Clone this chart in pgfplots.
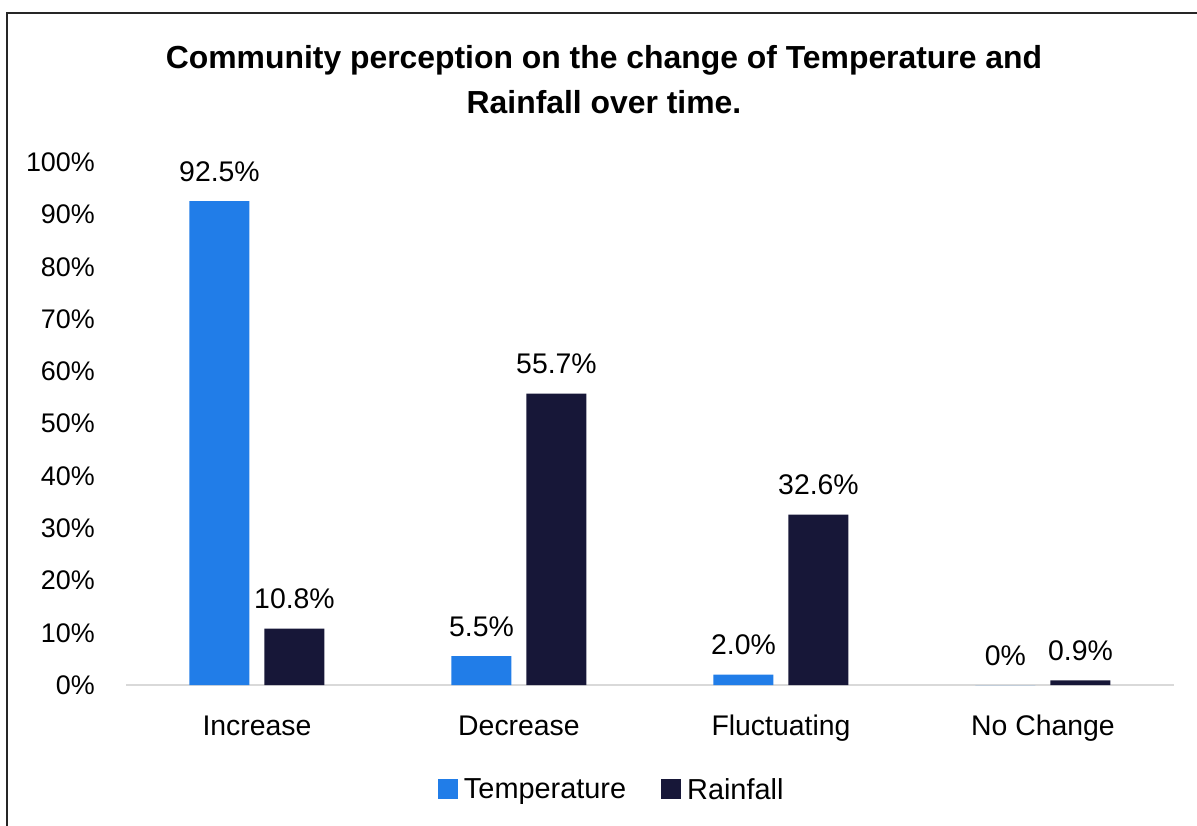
\documentclass[border=0pt]{standalone}
\usepackage{fontspec}
\setmainfont{Liberation Sans}
\usepackage{pgfplots}
\pgfplotsset{compat=1.18}

\definecolor{tempblue}{HTML}{217DE8}
\definecolor{rainnavy}{HTML}{171738}
\definecolor{baseline}{HTML}{D9D9D9}

\begin{document}
\begin{tikzpicture}
% page frame, in bp with the origin at the lower left
\useasboundingbox (0,0) rectangle (1197bp,826bp);
\draw[line width=2bp, black!85] (7bp,0) -- (7bp,813bp) -- (1198bp,813bp);

% title (base anchor sits on the last line)
\node[font=\fontsize{32}{46}\selectfont\bfseries, align=center, anchor=base]
  at (604bp,712bp) {Community perception on the change of Temperature and\\Rainfall over time.};

\begin{axis}[
  at={(126bp,141bp)}, anchor=south west,
  width=1048bp, height=523bp, scale only axis,
  xmin=-0.5, xmax=3.5, ymin=0, ymax=100,
  enlargelimits=false, clip=false,
  ybar=15bp, bar width=60bp,
  axis x line*=bottom, axis y line*=left,
  x axis line style={draw=baseline, line width=1.5bp},
  y axis line style={draw=none},
  major tick length=0pt,
  xtick={0,1,2,3},
  xticklabels={Increase,Decrease,Fluctuating,No Change},
  ytick={0,10,...,100},
  yticklabels={0\%,10\%,20\%,30\%,40\%,50\%,60\%,70\%,80\%,90\%,100\%},
  tick label style={inner sep=0pt},
  yticklabel style={font=\fontsize{27}{32}\selectfont,
    anchor=base east, xshift=-31bp, yshift=-9.5bp},
  xticklabel style={font=\fontsize{28.5}{32}\selectfont,
    anchor=base, yshift=-50bp},
  point meta=explicit symbolic,
  nodes near coords,
  every node near coord/.append style={font=\fontsize{28.5}{32}\selectfont,
    anchor=base, inner sep=0pt, yshift=20bp},
  legend style={at={(0.4635,-0.2)}, anchor=center, draw=none, fill=none,
    legend columns=2, font=\fontsize{29}{32}\selectfont,
    /tikz/every even column/.append style={column sep=33bp},
    legend cell align=left},
  legend image code/.code={\fill[#1] (0bp,-9bp) rectangle (20bp,11bp);
    \path (24bp,0bp);},
]
\addplot[fill=tempblue, draw=none] coordinates {
  (0,92.5) [92.5\%]
  (1,5.5)  [5.5\%]
  (2,2.0)  [2.0\%]
  (3,0)    [0\%]
};
\addplot[fill=rainnavy, draw=none] coordinates {
  (0,10.8) [10.8\%]
  (1,55.7) [55.7\%]
  (2,32.6) [32.6\%]
  (3,0.9)  [0.9\%]
};
\legend{Temperature,Rainfall}
\end{axis}
\end{tikzpicture}
\end{document}
